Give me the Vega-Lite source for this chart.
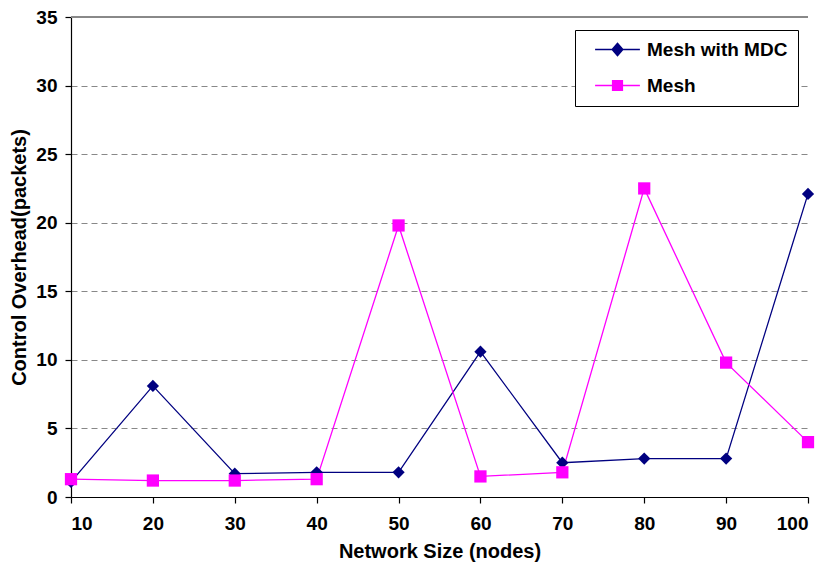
{
  "$schema": "https://vega.github.io/schema/vega-lite/v6.json",
  "width": 737,
  "height": 480,
  "autosize": {"type": "none"},
  "padding": {"left": 71, "top": 17, "right": 21, "bottom": 72},
  "background": "white",
  "config": {
    "view": {"stroke": null},
    "font": "Liberation Sans",
    "axis": {
      "labelFont": "Liberation Sans", "labelFontWeight": "bold", "labelFontSize": 19, "labelColor": "black",
      "titleFont": "Liberation Sans", "titleFontWeight": "bold", "titleFontSize": 20, "titleColor": "black",
      "domainColor": "black", "tickColor": "black", "domainWidth": 1.2, "tickWidth": 1.2, "tickSize": 6
    }
  },
  "data": {"values": [
    {"size": 10, "series": "Mesh with MDC", "overhead": 1.1},
    {"size": 20, "series": "Mesh with MDC", "overhead": 8.1},
    {"size": 30, "series": "Mesh with MDC", "overhead": 1.7},
    {"size": 40, "series": "Mesh with MDC", "overhead": 1.8},
    {"size": 50, "series": "Mesh with MDC", "overhead": 1.8},
    {"size": 60, "series": "Mesh with MDC", "overhead": 10.6},
    {"size": 70, "series": "Mesh with MDC", "overhead": 2.5},
    {"size": 80, "series": "Mesh with MDC", "overhead": 2.8},
    {"size": 90, "series": "Mesh with MDC", "overhead": 2.8},
    {"size": 100, "series": "Mesh with MDC", "overhead": 22.1},
    {"size": 10, "series": "Mesh", "overhead": 1.3},
    {"size": 20, "series": "Mesh", "overhead": 1.2},
    {"size": 30, "series": "Mesh", "overhead": 1.2},
    {"size": 40, "series": "Mesh", "overhead": 1.3},
    {"size": 50, "series": "Mesh", "overhead": 19.8},
    {"size": 60, "series": "Mesh", "overhead": 1.5},
    {"size": 70, "series": "Mesh", "overhead": 1.8},
    {"size": 80, "series": "Mesh", "overhead": 22.5},
    {"size": 90, "series": "Mesh", "overhead": 9.8},
    {"size": 100, "series": "Mesh", "overhead": 4.0}
  ]},
  "encoding": {
    "x": {"field": "size", "type": "quantitative",
      "scale": {"domain": [10, 100], "nice": false, "zero": false},
      "axis": {"values": [10,20,30,40,50,60,70,80,90,100], "grid": false, "labelPadding": 11, "title": "Network Size (nodes)", "titlePadding": 8}},
    "y": {"field": "overhead", "type": "quantitative",
      "scale": {"domain": [0, 35], "nice": false},
      "axis": {"values": [0,5,10,15,20,25,30,35], "grid": true, "gridColor": "#888888", "gridDash": [6, 4], "gridWidth": 1, "labelPadding": 8, "title": "Control Overhead(packets)", "titlePadding": 6}},
    "color": {"field": "series", "type": "nominal",
      "scale": {"domain": ["Mesh with MDC", "Mesh"], "range": ["#000080", "#FF00FF"]},
      "legend": {
        "title": null, "orient": "none", "legendX": 504, "legendY": 13,
        "fillColor": "white", "strokeColor": "black", "padding": 10,
        "labelFont": "Liberation Sans", "labelFontWeight": "bold", "labelFontSize": 19, "labelColor": "black",
        "symbolSize": 196, "rowPadding": 16, "labelOffset": 20, "symbolOffset": 23,
        "encode": {"symbols": {"update": {
          "shape": {"signal": "datum.value === 'Mesh' ? 'M-3.2,-0.1H3.2V0.1H-3.2ZM-0.8,-0.8H0.8V0.8H-0.8Z' : 'M-3.2,-0.1H3.2V0.1H-3.2ZM0,-1.05L0.9,0L0,1.05L-0.9,0Z'"},
          "fill": {"signal": "datum.value === 'Mesh' ? '#FF00FF' : '#000080'"},
          "fillOpacity": {"value": 1},
          "strokeWidth": {"value": 0}
        }}}
      }}
  },
  "layer": [
    {"mark": {"type": "rule", "color": "#888888", "strokeWidth": 1}, "encoding": {"y": {"datum": 35}, "x": {"value": 0}, "x2": {"value": 737}, "color": {"value": "#888888"}}},
    {"mark": {"type": "line", "strokeWidth": 1.3}, "encoding": {}},
    {"transform": [{"filter": "datum.series === 'Mesh with MDC'"}],
      "mark": {"type": "point", "filled": true, "opacity": 1, "shape": "diamond", "size": 150}},
    {"transform": [{"filter": "datum.series === 'Mesh'"}],
      "mark": {"type": "point", "filled": true, "opacity": 1, "shape": "square", "size": 150}}
  ]
}
